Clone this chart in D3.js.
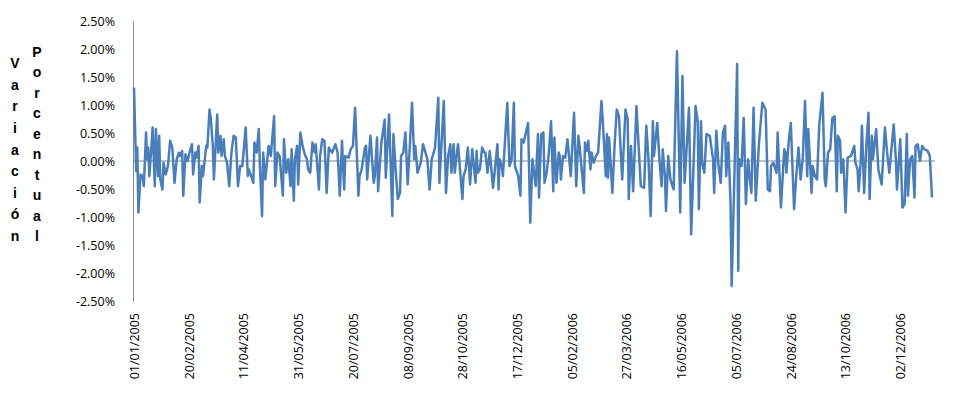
<!DOCTYPE html>
<html>
<head>
<meta charset="utf-8">
<script src="https://cdn.jsdelivr.net/npm/d3@7"></script>
<style>
  body { margin: 0; background: #fff; }
  svg text { font-family: "Open Sans", "Liberation Sans", sans-serif; fill: #000; }
</style>
</head>
<body>
<svg id="chart" width="962" height="396"></svg>
<script>
// days since 01/01/2005 (turning points)
const obsDay = [
  0,2,3,4,6,8,9,11,12,13,14,16,17,19,20,22,23,24,26,27,29,31,33,35,37,39,41,42,44,45,47,49,51,53,54,56,57,59,60,62,63,66,67,69,70,72,73,76,77,79,80,82,83,85,87,89,91,
  93,95,97,99,102,104,105,107,109,110,112,114,115,117,118,120,123,125,128,129,131,133,136,137,139,141,143,144,146,147,149,150,152,154,156,158,159,161,163,165,166,169,170,172,174,176,178,181,
  184,186,188,190,192,193,196,198,200,202,205,206,208,211,212,213,216,219,220,222,223,226,229,230,233,236,237,239,241,243,244,246,248,250,252,254,256,257,259,261,262,264,265,268,270,272,
  275,278,279,283,285,287,289,290,292,293,295,296,300,301,303,305,307,309,312,313,314,316,318,320,321,323,325,328,330,332,333,334,336,337,341,343,345,347,348,351,353,354,356,360,362,364,
  367,369,370,372,374,375,377,379,381,383,384,386,388,389,390,392,394,396,399,402,404,406,407,411,412,414,415,417,418,420,422,424,427,428,431,432,433,434,437,439,441,443,446,449,451,452,454,456,
  459,463,466,468,470,472,474,475,478,480,482,483,485,486,488,490,491,493,496,499,501,503,507,509,513,515,516,518,519,521,523,526,529,530,532,534,536,538,540,541,543,545,
  546,551,552,553,555,557,559,561,562,564,566,568,571,574,577,579,581,582,584,587,588,591,594,595,596,598,600,603,605,607,609,611,613,615,616,619,620,622,624,626,629,631,632,634,636,638,
  640,642,643,645,646,648,650,652,655,658,659,661,662,664,665,667,669,671,672,674,675,678,680,683,686,688,690,694,696,697,700,702,704,706,707,709,711,713,714,716,718,720,722,725,727,729
];

// percent variation at those days
const obsPct = [
  1.31,-0.18,0.24,-0.92,-0.24,-0.27,-0.45,0.51,0.03,0.24,-0.27,0.27,0.6,-0.45,0.57,-0.27,0.45,-0.33,-0.51,-0.03,-0.24,-0.09,0.36,0.24,-0.39,0.03,0.15,0.09,0.18,-0.62,0.12,0.0,0.18,0.30,-0.24,0.15,0.06,0.27,-0.74,-0.09,-0.27,0.27,0.24,0.92,0.80,0.27,-0.33,0.83,0.15,0.45,0.09,0.39,0.09,-0.03,-0.45,0.15,0.45,
  0.42,-0.45,-0.09,-0.09,0.6,-0.27,-0.15,-0.27,-0.39,0.33,0.15,0.57,-0.09,-0.98,0.15,-0.33,0.27,0.09,0.8,-0.45,0.15,0.09,-0.62,0.39,-0.21,0.03,-0.45,0.21,-0.71,0.03,0.27,-0.42,0.51,0.27,0.12,0.03,-0.15,-0.21,0.33,0.15,0.30,-0.51,0.09,0.39,0.36,-0.57,0.24,0.15,
  0.30,0.15,-0.62,0.36,-0.51,0.09,0.06,0.21,0.27,0.95,-0.62,-0.27,-0.15,0.24,0.27,-0.33,0.45,-0.39,-0.27,0.42,-0.54,0.33,0.74,-0.30,0.83,-0.98,0.48,-0.15,-0.68,-0.57,0.09,0.15,0.51,-0.42,0.27,1.04,0.03,0.27,-0.21,-0.09,-0.03,0.30,0.24,0.03,-0.51,0.03,
  0.24,1.13,-0.39,1.07,-0.57,0.09,0.30,-0.21,0.30,-0.21,0.15,0.30,-0.68,-0.27,-0.15,0.24,-0.42,0.21,-0.39,0.18,-0.21,-0.15,0.24,0.15,0.15,-0.21,0.18,-0.48,-0.09,0.30,-0.51,0.03,-0.09,-0.27,1.04,-0.09,0.03,1.04,-0.09,-0.27,-0.62,0.39,0.33,0.68,-1.10,0.03,
  -0.45,0.48,-0.65,0.48,0.51,-0.39,-0.21,0.15,0.71,-0.54,0.42,-0.39,0.15,0.09,-0.33,0.09,0.06,0.39,-0.27,0.86,-0.45,0.45,0.27,-0.57,0.33,0.18,0.36,-0.15,0.15,-0.03,0.09,0.15,1.07,0.80,-0.27,0.48,-0.30,0.42,-0.57,0.27,0.92,0.80,-0.33,0.92,0.74,-0.68,0.27,-0.54,
  0.98,-0.45,-0.48,0.63,0.03,-0.98,0.71,0.09,0.68,0.03,-0.45,0.21,-0.27,-0.89,0.09,-0.33,-0.39,-0.51,1.96,-0.92,1.52,-0.39,0.95,-1.31,0.98,0.71,-0.86,0.71,-0.03,-0.21,0.48,0.45,0.03,-0.57,0.54,-0.09,-0.39,0.51,0.63,-0.27,0.33,-0.80,
  -2.23,1.73,-1.96,0.03,-0.09,0.77,-0.77,0.03,-0.21,-0.57,0.95,-0.71,0.33,1.04,0.92,-0.51,-0.54,-0.09,-0.03,-0.21,0.51,-0.83,0.21,0.15,-0.21,0.33,0.68,-0.86,-0.27,0.24,-0.33,0.06,1.07,-0.27,0.57,-0.57,-0.09,-0.27,-0.33,0.65,1.22,-0.33,-0.45,0.15,0.21,0.77,
  0.80,-0.54,0.45,0.36,-0.21,0.03,-0.92,0.06,0.09,0.27,-0.03,-0.15,-0.54,0.03,0.63,-0.57,0.27,0.86,-0.68,0.45,0.03,0.57,-0.15,-0.42,0.60,0.15,-0.21,0.65,0.03,-0.51,0.39,-0.83,-0.77,0.48,-0.62,0.03,0.09,-0.65,0.27,0.30,0.0,0.27,0.21,0.18,0.09,-0.65
];

const yTicks = [-2.5, -2, -1.5, -1, -0.5, 0, 0.5, 1, 1.5, 2, 2.5];
const xTickDays = [0,50,100,150,200,250,300,350,400,450,500,550,600,650,700];
const titleLeft = "Variación";
const titleRight = "Porcentual";

const start = new Date(2005, 0, 1);
const end = new Date(2006, 11, 31);

const data = obsDay.map((d, i) => ({ date: d3.timeDay.offset(start, d), v: obsPct[i] }));

const svg = d3.select("#chart");

const x = d3.scaleTime().domain([start, end]).range([134, 932]);
const y = d3.scaleLinear().domain([-2.5, 2.5]).range([301, 21]);

// y axis
const yAxis = svg.append("g")
  .attr("transform", "translate(133,0)")
  .call(d3.axisLeft(y).tickValues(yTicks).tickSize(0).tickPadding(18)
    .tickFormat(d => d.toFixed(2) + "%"));
yAxis.select(".domain").attr("stroke", "#868686").attr("stroke-width", 1);
yAxis.selectAll("text").style("font-size", "12.5px").attr("fill", "#000");

// zero line
svg.append("line")
  .attr("x1", 133).attr("x2", 935)
  .attr("y1", y(0)).attr("y2", y(0))
  .attr("stroke", "#868686").attr("stroke-width", 1);

// x labels (dates every 50 days)
const fmt = d3.timeFormat("%d/%m/%Y");
const xAxis = svg.append("g")
  .attr("transform", "translate(0,301)")
  .call(d3.axisBottom(x).tickValues(xTickDays.map(d => d3.timeDay.offset(start, d)))
    .tickSize(0).tickFormat(fmt));
xAxis.select(".domain").remove();
xAxis.selectAll("text")
  .style("font-size", "12.5px")
  .attr("fill", "#000")
  .attr("transform", "rotate(-90)")
  .attr("text-anchor", "end")
  .attr("x", -12)
  .attr("y", 0)
  .attr("dy", "0.35em");

// line
const line = d3.line()
  .x(d => x(d.date))
  .y(d => y(d.v));

svg.append("path")
  .datum(data)
  .attr("fill", "none")
  .attr("stroke", "#4A7EBB")
  .attr("stroke-width", 2.5)
  .attr("stroke-linejoin", "round")
  .attr("d", line);

// stacked axis title
function stacked(str, cx, y0, y1) {
  const letters = str.split("");
  const step = (y1 - y0) / (letters.length - 1);
  svg.append("g").selectAll("text")
    .data(letters)
    .join("text")
    .attr("x", cx)
    .attr("y", (d, i) => y0 + i * step)
    .attr("text-anchor", "middle")
    .attr("dominant-baseline", "central")
    .style("font-family", "'Liberation Sans', sans-serif")
    .style("font-size", "14px")
    .style("font-weight", "bold")
    .text(d => d);
}
stacked(titleLeft, 15, 63, 236);
stacked(titleRight, 37, 52, 236);
</script>
</body>
</html>
